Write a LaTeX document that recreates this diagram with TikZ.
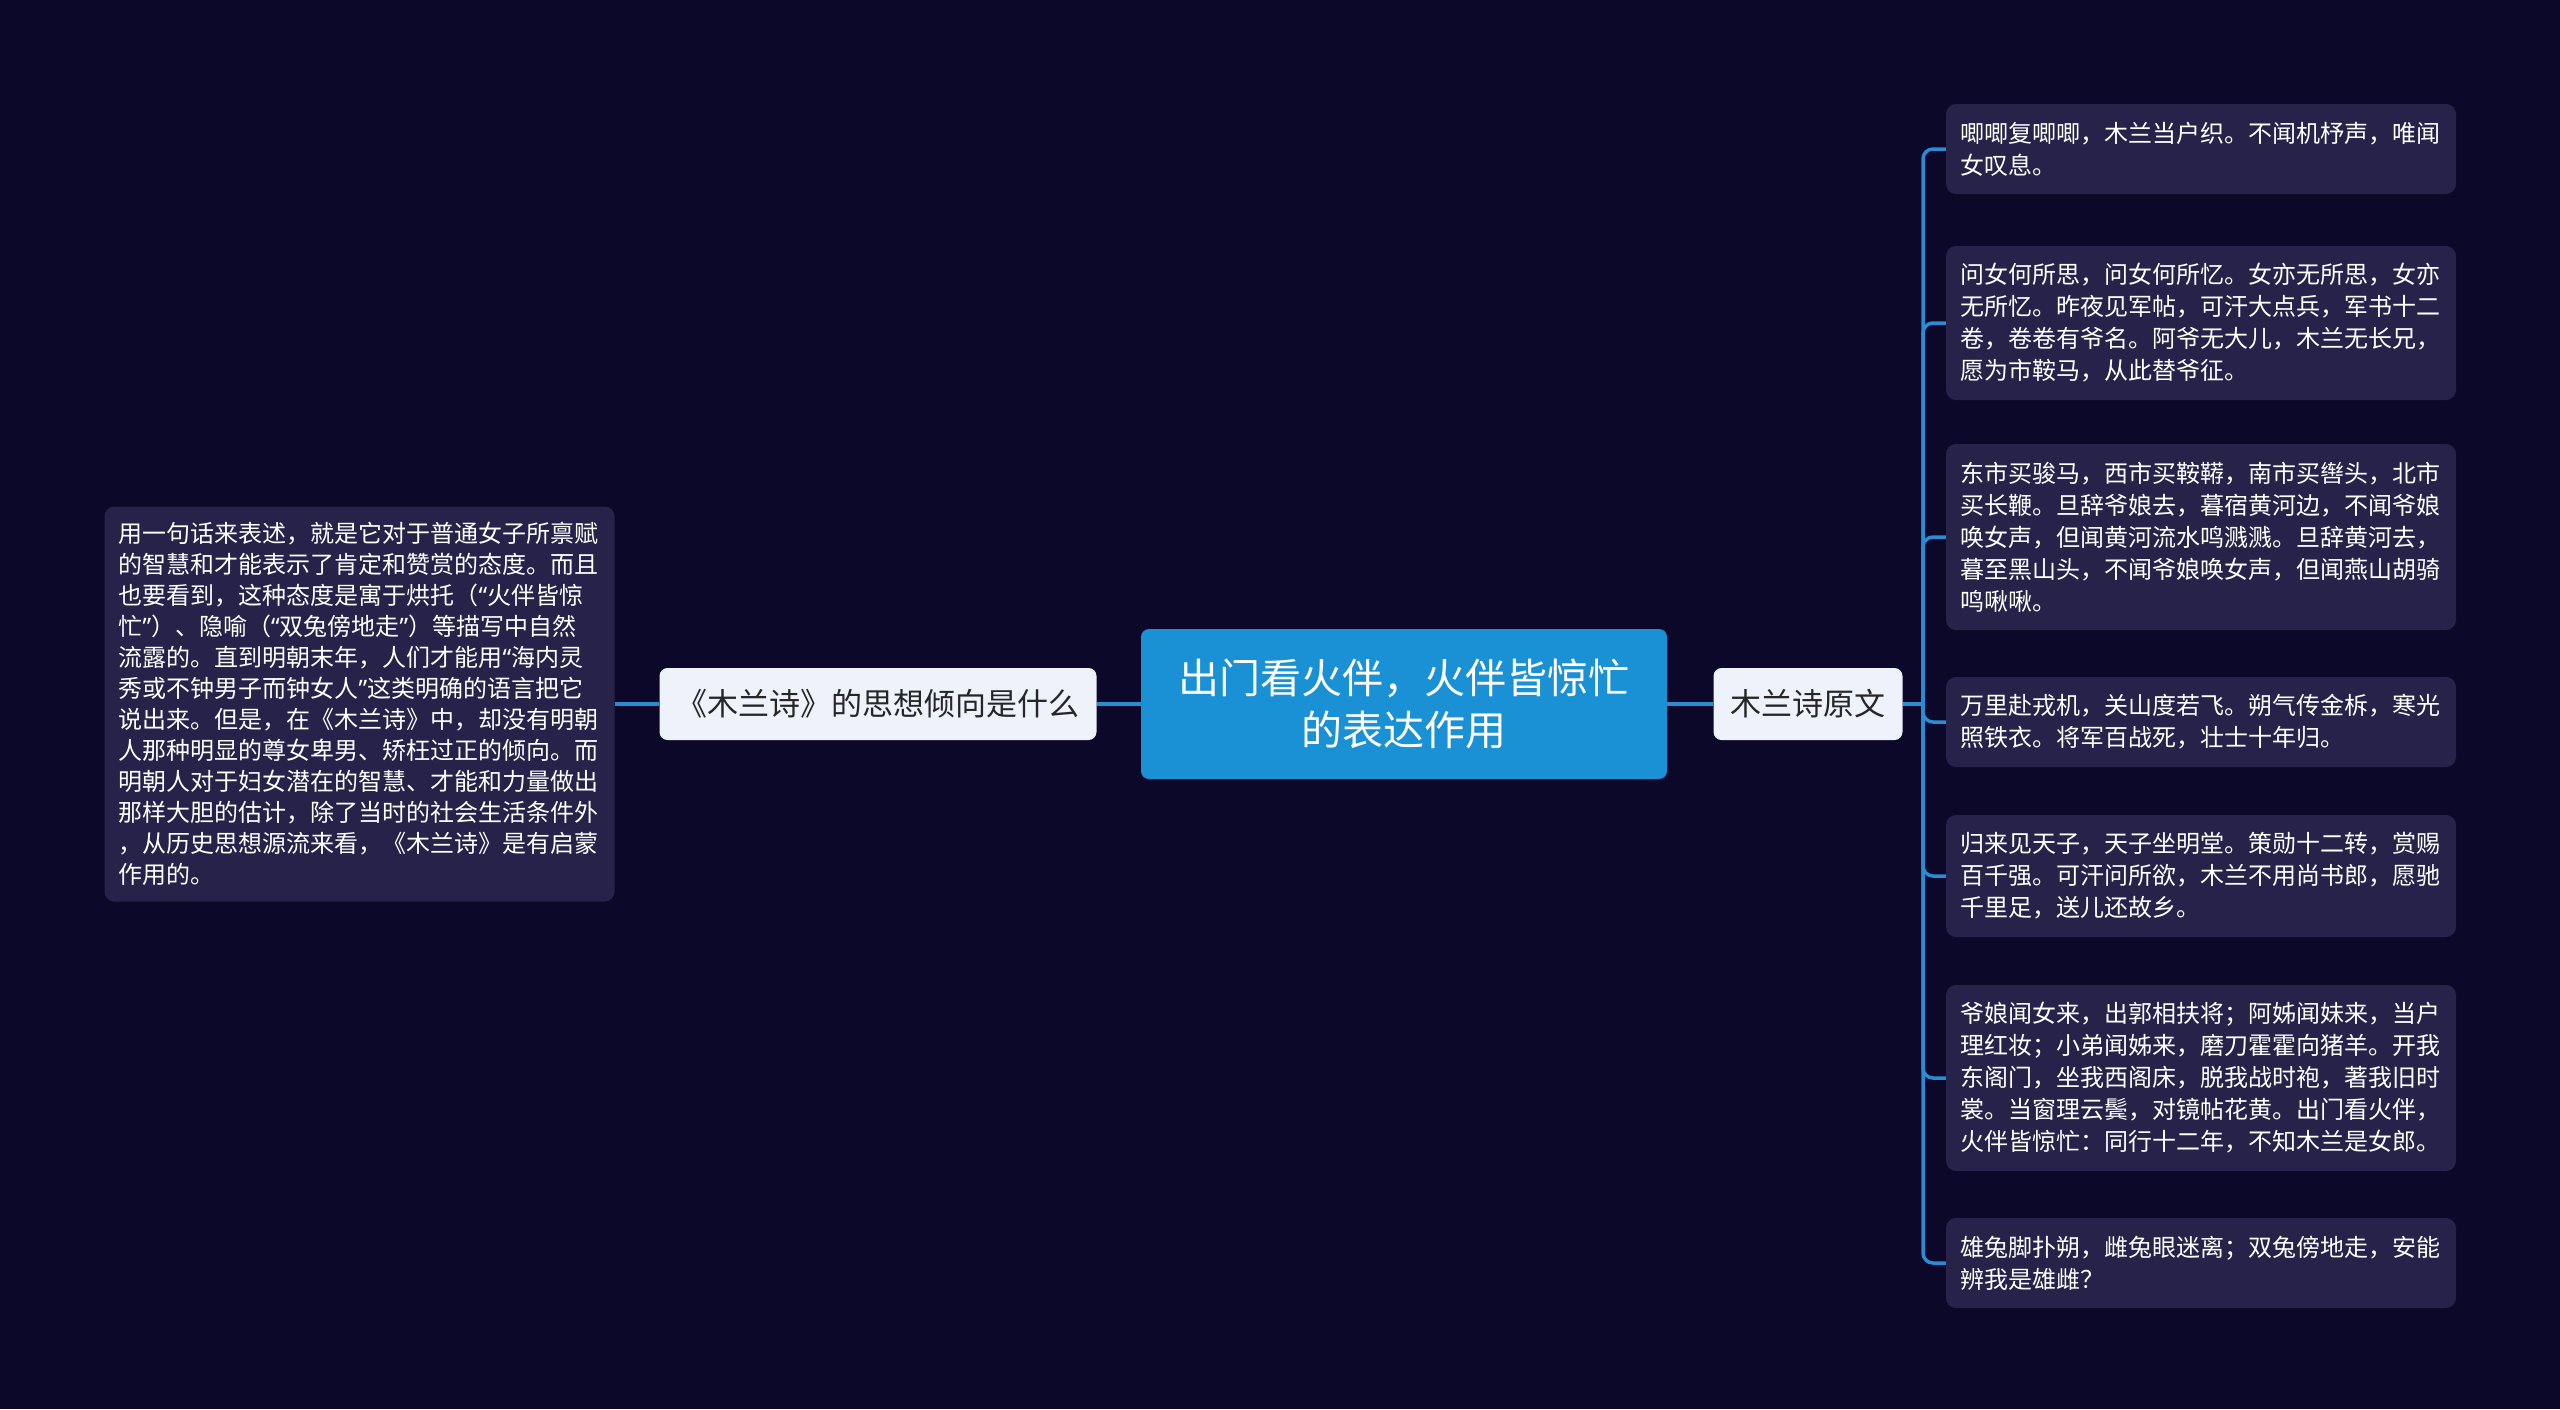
\documentclass[tikz,border=0pt]{standalone}
\usepackage{fontspec}
\setmainfont{Noto Sans CJK SC}
\newfontfamily\quotefont{Noto Sans}
\newcommand{\oqt}{{\quotefont “}}
\newcommand{\cqt}{{\quotefont ”}}
\definecolor{bgnavy}{HTML}{0B0829}
\definecolor{boxnavy}{HTML}{262249}
\definecolor{rootblue}{HTML}{1B91D5}
\definecolor{linkblue}{HTML}{2A8CD3}
\definecolor{tagwhite}{HTML}{EEF3FB}

\begin{document}
\begin{tikzpicture}[x=1pt,y=-1pt,
		link/.style={draw=linkblue,line width=3.5pt},
		rootbox/.style={fill=rootblue,text=white,rounded corners=8pt,minimum width=526pt,minimum height=150pt,align=center,font=\fontsize{41}{52}\selectfont},
		tagbox/.style={fill=tagwhite,text=black!85,rounded corners=8pt,minimum height=72pt,inner xsep=17pt,font=\fontsize{31}{36}\selectfont},
		poembox/.style={fill=boxnavy,text=white,rounded corners=10pt,text width=482pt,inner xsep=14pt,inner ysep=0pt,align=left,font=\fontsize{24}{32}\selectfont}]
					\fill[bgnavy] (0,0) rectangle (2560,1409);
					\useasboundingbox (0,0) rectangle (2560,1409);

					\coordinate (p0) at (1404,704);
					\coordinate (pl) at (878,704);
					\coordinate (pt) at (359.5,704);
					\coordinate (pr) at (1808,704);
					\coordinate (rj) at (1923,704);

					\node[rootbox] (root) at (p0) {出门看火伴，火伴皆惊忙\\的表达作用};
					\node[tagbox] (left) at (pl) {《木兰诗》的思想倾向是什么};
					\node[tagbox] (right) at (pr) {木兰诗原文};

					\node[poembox,minimum height=395pt,font=\fontsize{24}{31}\selectfont] (leftbox) at (pt) {用一句话来表述，就是它对于普通女子所禀赋\\的智慧和才能表示了肯定和赞赏的态度。而且\\也要看到，这种态度是寓于烘托（\oqt 火伴皆惊\\忙\cqt）、隐喻（\oqt 双兔傍地走\cqt）等描写中自然\\流露的。直到明朝末年，人们才能用\oqt 海内灵\\秀或不钟男子而钟女人\cqt 这类明确的语言把它\\说出来。但是，在《木兰诗》中，却没有明朝\\人那种明显的尊女卑男、矫枉过正的倾向。而\\明朝人对于妇女潜在的智慧、才能和力量做出\\那样大胆的估计，除了当时的社会生活条件外\\，从历史思想源流来看，《木兰诗》是有启蒙\\作用的。};

					\node[poembox,minimum height=90pt] (r1) at (2201,149) {唧唧复唧唧，木兰当户织。不闻机杼声，唯闻\\女叹息。};
					\node[poembox,minimum height=154pt] (r2) at (2201,323) {问女何所思，问女何所忆。女亦无所思，女亦\\无所忆。昨夜见军帖，可汗大点兵，军书十二\\卷，卷卷有爷名。阿爷无大儿，木兰无长兄，\\愿为市鞍马，从此替爷征。};
					\node[poembox,minimum height=186pt] (r3) at (2201,537) {东市买骏马，西市买鞍鞯，南市买辔头，北市\\买长鞭。旦辞爷娘去，暮宿黄河边，不闻爷娘\\唤女声，但闻黄河流水鸣溅溅。旦辞黄河去，\\暮至黑山头，不闻爷娘唤女声，但闻燕山胡骑\\鸣啾啾。};
					\node[poembox,minimum height=90pt] (r4) at (2201,722) {万里赴戎机，关山度若飞。朔气传金柝，寒光\\照铁衣。将军百战死，壮士十年归。};
					\node[poembox,minimum height=122pt] (r5) at (2201,876) {归来见天子，天子坐明堂。策勋十二转，赏赐\\百千强。可汗问所欲，木兰不用尚书郎，愿驰\\千里足，送儿还故乡。};
					\node[poembox,minimum height=186pt] (r6) at (2201,1078) {爷娘闻女来，出郭相扶将；阿姊闻妹来，当户\\理红妆；小弟闻姊来，磨刀霍霍向猪羊。开我\\东阁门，坐我西阁床，脱我战时袍，著我旧时\\裳。当窗理云鬓，对镜帖花黄。出门看火伴，\\火伴皆惊忙：同行十二年，不知木兰是女郎。};
					\node[poembox,minimum height=90pt] (r7) at (2201,1263) {雄兔脚扑朔，雌兔眼迷离；双兔傍地走，安能\\辨我是雄雌？};

					\draw[link] (root.west) -- (left.east);
					\draw[link] (left.west) -- (leftbox.east);
					\draw[link] (root.east) -- (right.west);
					\draw[link] (right.east) -- (rj);

					\foreach \i in {1, ..., 7}{
							\draw[link,rounded corners=10pt] (rj) |- (r\i.west);
						}
				\end{tikzpicture}
\end{document}
